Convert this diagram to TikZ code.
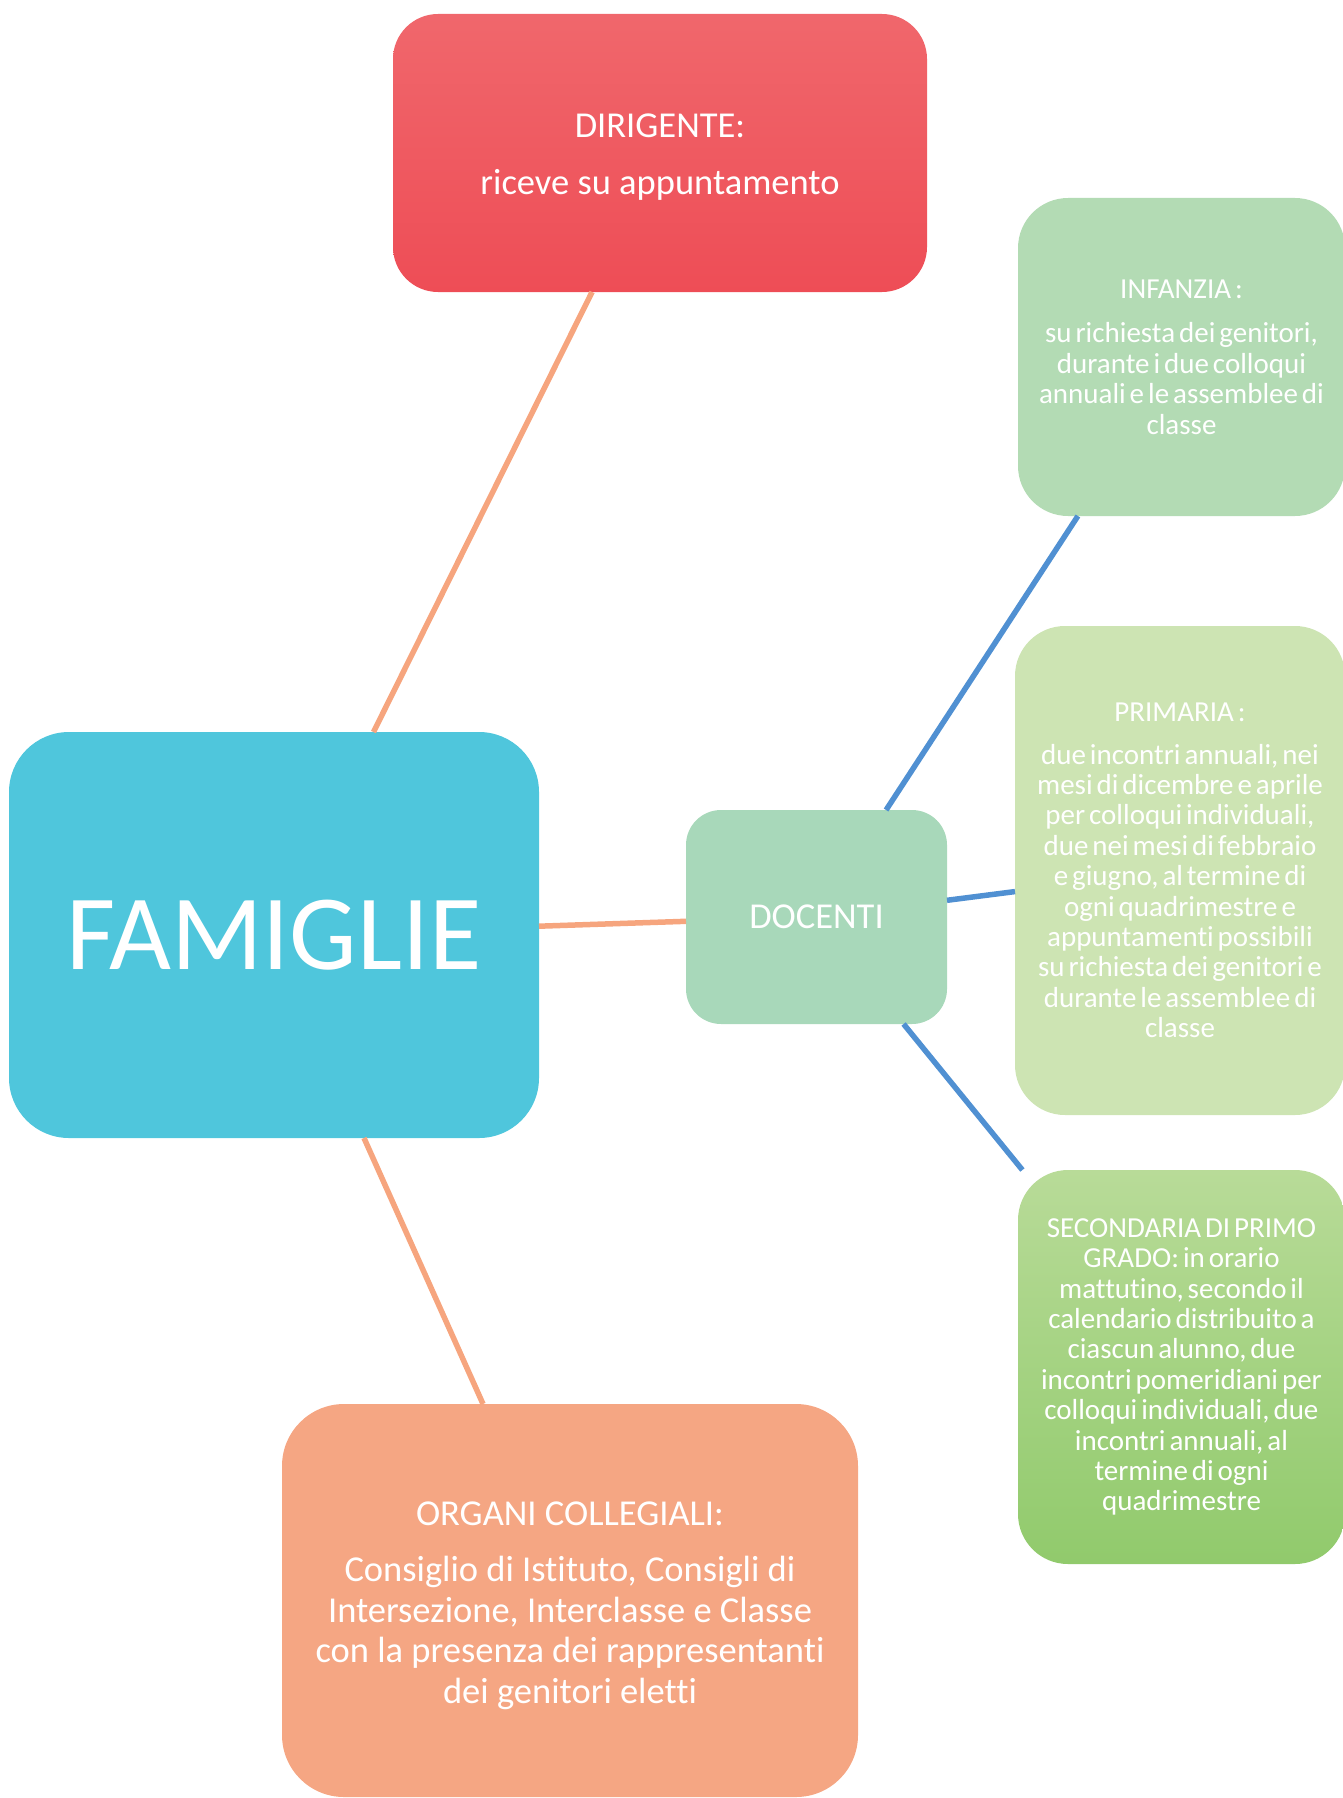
\documentclass[tikz,border=0pt]{standalone}
\usepackage{fontspec}
\setmainfont{Carlito}[Ligatures=NoCommon]
\newfontfamily\tightfont{Carlito}[WordSpace=0.6,Ligatures=NoCommon]

\definecolor{famcol}{RGB}{79,198,220}
\definecolor{doccol}{RGB}{168,216,186}
\definecolor{infcol}{RGB}{179,219,180}
\definecolor{pricol}{RGB}{205,228,179}
\definecolor{sectop}{RGB}{184,219,152}
\definecolor{secbot}{RGB}{145,202,108}
\definecolor{dirtop}{RGB}{240,103,108}
\definecolor{dirbot}{RGB}{238,77,86}
\definecolor{orgcol}{RGB}{245,166,131}
\definecolor{linkorange}{RGB}{246,165,126}
\definecolor{linkblue}{RGB}{80,144,210}

\begin{document}
\begin{tikzpicture}[x=1pt,y=-1pt,
  boxbase/.style={inner sep=0pt, outer sep=0pt, text=white, align=center, anchor=center},
  bigtext/.style={font=\fontsize{36.5}{44}\selectfont},
  orgtext/.style={font=\fontsize{36.5}{40.5}\selectfont},
  smalltext/.style={font=\tightfont\fontsize{29}{30.4}\selectfont},
  orangelink/.style={draw=linkorange, line width=5.5pt},
  bluelink/.style={draw=linkblue, line width=5.5pt}]

\useasboundingbox (0,0) rectangle (1343,1798);

% central node
\node[boxbase, fill=famcol, rounded corners=60pt,
      minimum width=530pt, minimum height=406pt,
      font=\fontsize{107}{120}\selectfont] (fam) at (274,935) {FAMIGLIE};

% first-level nodes
\node[boxbase, bigtext, top color=dirtop, bottom color=dirbot, rounded corners=45pt,
      minimum width=534pt, minimum height=278pt] (dir) at (660,153)
  {\rule{0pt}{31pt}DIRIGENTE:\\[13pt]riceve su appuntamento};

\node[boxbase, bigtext, fill=doccol, rounded corners=35pt,
      minimum width=261pt, minimum height=214pt] (doc) at (816.5,917) {DOCENTI};

\node[boxbase, orgtext, fill=orgcol, rounded corners=62pt,
      minimum width=576pt, minimum height=393pt] (org) at (570,1600.5)
  {\rule{0pt}{34pt}ORGANI COLLEGIALI:\\[15.5pt]
   Consiglio di Istituto, Consigli di\\
   Intersezione, Interclasse e Classe\\
   con la presenza dei rappresentanti\\
   dei genitori eletti};

% school levels
\node[boxbase, smalltext, fill=infcol, rounded corners=50pt,
      minimum width=327pt, minimum height=318pt] (inf) at (1181.5,357)
  {INFANZIA :\\[14pt]
   su richiesta dei genitori,\\
   durante i due colloqui\\
   annuali e le assemblee di\\
   classe};

\node[boxbase, smalltext, fill=pricol, rounded corners=50pt,
      minimum width=330pt, minimum height=489pt] (pri) at (1180,870.5)
  {PRIMARIA :\\[12pt]
   due incontri annuali, nei\\
   mesi di dicembre e aprile\\
   per colloqui individuali,\\
   due nei mesi di febbraio\\
   e giugno, al termine di\\
   ogni quadrimestre e\\
   appuntamenti possibili\\
   su richiesta dei genitori e\\
   durante le assemblee di\\
   classe};

\node[boxbase, smalltext, top color=sectop, bottom color=secbot, rounded corners=50pt,
      minimum width=327pt, minimum height=394pt] (sec) at (1181.5,1367)
  {SECONDARIA DI PRIMO\\
   GRADO: in orario\\
   mattutino, secondo il\\
   calendario distribuito a\\
   ciascun alunno, due\\
   incontri pomeridiani per\\
   colloqui individuali, due\\
   incontri annuali, al\\
   termine di ogni\\
   quadrimestre};

% connectors
\draw[orangelink] (fam) -- (dir);
\draw[orangelink] (fam) -- (doc);
\draw[orangelink] (fam) -- (org);
\draw[bluelink] (doc) -- (inf);
\draw[bluelink] (doc) -- (pri);
\draw[bluelink] (doc) -- (sec);
\end{tikzpicture}
\end{document}
